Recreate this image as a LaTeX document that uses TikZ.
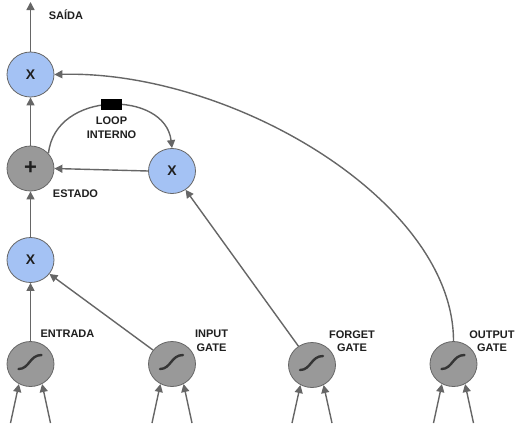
\documentclass[tikz,border=0pt]{standalone}
\usepackage{fontspec}
\setmainfont{Liberation Sans}
\usetikzlibrary{arrows.meta,shapes.geometric}
\definecolor{nodeblue}{HTML}{A4C2F4}
\definecolor{nodegray}{HTML}{999999}
\definecolor{edgegray}{HTML}{666666}
\definecolor{inkdark}{HTML}{1F1F1F}

\begin{document}
\begin{tikzpicture}[x=1pt,y=-1pt,
  unit/.style={ellipse, draw=edgegray, line width=0.8pt, minimum width=47pt,
    minimum height=45pt, inner sep=0pt, text=inkdark,
    font=\bfseries\fontsize{14}{14}\selectfont},
  mult/.style={unit, fill=nodeblue},
  sumnode/.style={unit, fill=nodegray, font=\bfseries\fontsize{22}{22}\selectfont},
  sig/.style={unit, fill=nodegray},
  sigline/.style={draw=inkdark!90, line width=2.4pt, line cap=round},
  flow/.style={draw=edgegray, line width=1.4pt, -{Triangle[length=8pt,width=8pt]}},
  lbl/.style={text=inkdark, font=\bfseries\fontsize{11}{13.5}\selectfont,
    align=center, inner sep=0pt},
]
\useasboundingbox (0,0) rectangle (516,429);
\fill[white] (0,0) rectangle (516,429);

% cell units
\node[mult]    (out)  at (30.5,74.5) {X};
\node[sumnode] (plus) at (30.5,168.5) {+};
\node[mult]    (fx)   at (172,171) {X};
\node[mult]    (inx)  at (30.5,260) {X};

% sigmoid units
\node[sig] (sE) at (30.5,364) {};
\node[sig] (sI) at (172,364) {};
\node[sig] (sF) at (312,365) {};
\node[sig] (sO) at (453.5,364) {};
\foreach \n in {sE,sI,sF,sO}{
  \draw[sigline, shift={(\n.center)}] (-12,5) .. controls (-1,5) and (-1,-9) .. (11,-9);
}

% inputs feeding each sigmoid unit
\foreach \n/\cx in {sE/30.5, sI/172, sF/312, sO/453.5}{
  \coordinate (\n-inL) at (\cx-20,423);
  \coordinate (\n-inR) at (\cx+20,423);
  \draw[flow] (\n-inL) -- (\n.240);
  \draw[flow] (\n-inR) -- (\n.300);
}

% main flow
\coordinate (top) at (30.5,2);
\draw[flow] (out.north) -- (top);
\draw[flow] (plus.north) -- (out.south);
\draw[flow] (inx.north) -- (plus.south);
\draw[flow] (sE.north) -- (inx.south);
\draw[flow] (fx.west) -- (plus.east);
\draw[flow] (sI) -- (inx);
\draw[flow] (sF) -- (fx);
\draw[flow] (sO.north) .. controls (453.5,200) and (230,70) .. (out.east);

% internal loop with its delay block
\draw[flow] (plus.40) .. controls (55,90) and (165,90) .. (fx.north);
\node[fill=black, minimum width=21pt, minimum height=11pt, inner sep=0pt] (delay) at (111.5,104.5) {};

% labels
\node[lbl] (tSaida)   at (66,15)       {SAÍDA};
\node[lbl] (tLoop)    at (111.5,127.5) {LOOP\\INTERNO};
\node[lbl] (tEstado)  at (75.5,193.5)  {ESTADO};
\node[lbl] (tEntrada) at (67.5,334)    {ENTRADA};
\node[lbl] (tInput)   at (211.5,341)   {INPUT\\GATE};
\node[lbl] (tForget)  at (352,341)     {FORGET\\GATE};
\node[lbl] (tOutput)  at (492,341)     {OUTPUT\\GATE};
\end{tikzpicture}
\end{document}
